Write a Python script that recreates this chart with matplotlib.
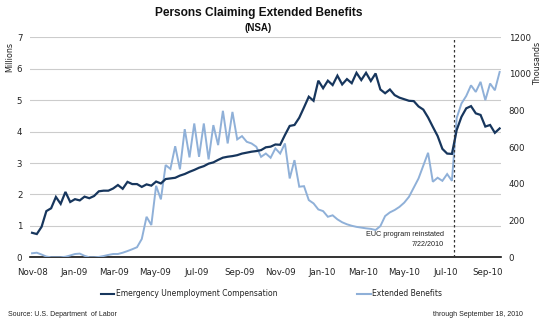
import matplotlib
matplotlib.use("Agg")
import matplotlib.pyplot as plt
import pandas as pd

# ---------------- data ----------------
weeks = pd.date_range("2008-11-01", periods=99, freq="7D")

# Emergency Unemployment Compensation (millions, left axis)
euc = [0.78, 0.74, 0.97, 1.47, 1.56, 1.92, 1.70, 2.08, 1.76, 1.85,
       1.81, 1.93, 1.88, 1.95, 2.10, 2.12, 2.12, 2.19, 2.30, 2.18,
       2.40, 2.33, 2.33, 2.24, 2.32, 2.28, 2.41, 2.35, 2.49, 2.51,
       2.53, 2.60, 2.65, 2.72, 2.78, 2.85, 2.90, 2.98, 3.02, 3.10,
       3.17, 3.20, 3.22, 3.25, 3.30, 3.33, 3.36, 3.38, 3.41, 3.50,
       3.52, 3.59, 3.58, 3.89, 4.18, 4.21, 4.44, 4.77, 5.11, 4.98,
       5.62, 5.38, 5.62, 5.48, 5.78, 5.50, 5.67, 5.54, 5.87, 5.64,
       5.87, 5.61, 5.85, 5.34, 5.22, 5.34, 5.16, 5.08, 5.03, 4.98,
       4.97, 4.80, 4.70, 4.45, 4.15, 3.86, 3.45, 3.30, 3.29, 4.05,
       4.47, 4.74, 4.81, 4.58, 4.53, 4.16, 4.21, 3.96, 4.10]

# Extended Benefits (thousands, right axis)
eb = [22, 25, 15, 4, 0, 0, 0, 3, 10, 18,
      20, 8, 0, 0, 2, 7, 13, 18, 18, 25,
      34, 44, 55, 100, 221, 176, 390, 316, 503, 482,
      606, 480, 699, 545, 730, 548, 730, 534, 721, 612,
      799, 621, 793, 643, 661, 630, 621, 603, 548, 566,
      543, 594, 566, 621, 430, 530, 385, 388, 312, 294,
      261, 252, 221, 229, 207, 191, 180, 172, 166, 162,
      158, 155, 149, 170, 225, 245, 258, 275, 298, 330,
      380, 430, 500, 570, 412, 434, 417, 454, 417, 760,
      839, 880, 938, 902, 957, 857, 948, 911, 1011]

tick_dates = pd.date_range("2008-11-01", "2010-09-01", freq="2MS")
tick_labels = ["Nov-08", "Jan-09", "Mar-09", "May-09", "Jul-09", "Sep-09",
               "Nov-09", "Jan-10", "Mar-10", "May-10", "Jul-10", "Sep-10"]
left_ticks = [0, 1, 2, 3, 4, 5, 6, 7]
right_ticks = [0, 200, 400, 600, 800, 1000, 1200]
reinstated = pd.Timestamp("2010-07-13")

series_names = ["Emergency Unemployment Compensation", "Extended Benefits"]

# ---------------- style ----------------
DARK = "#17365D"
LIGHT = "#8FB0D8"
TXT = "#222222"

W, H = 550, 326
fig = plt.figure(figsize=(W / 100, H / 100), dpi=100)
ax = fig.add_axes([30 / W, 1 - 257.3 / H, 471 / W, 220 / H])
ax2 = ax.twinx()
ax3 = ax.twinx()

ax.set_xlim(weeks[0] - pd.Timedelta(days=3), weeks[-1] + pd.Timedelta(days=2))
ax.set_ylim(0, 7)
ax.set_yticks(left_ticks)
ax.grid(axis="y", color="#cccccc", lw=0.8)
ax.set_axisbelow(True)
ax.set_xticks(tick_dates)
ax.set_xticklabels(tick_labels)
ax.tick_params(axis="both", length=0, labelsize=6.2, colors=TXT)
ax.tick_params(axis="y", pad=5.5)
ax.tick_params(axis="x", pad=8)
for s in ["left", "right", "top"]:
    ax.spines[s].set_visible(False)
ax.spines["bottom"].set_color("#111111")
ax.spines["bottom"].set_linewidth(1.2)

# Extended benefits on right axis
l2, = ax2.plot(weeks, eb, color=LIGHT, lw=1.4, solid_joinstyle="miter")
ax2.set_ylim(0, 1200)
ax2.set_yticks(right_ticks)
ax2.tick_params(axis="y", length=0, labelsize=6.2, colors=TXT, pad=5.5)
for s in ax2.spines.values():
    s.set_visible(False)

# EUC on top
l1, = ax3.plot(weeks, euc, color=DARK, lw=1.6, solid_joinstyle="miter")
ax3.set_ylim(0, 7)
ax3.set_yticks([])
for s in ax3.spines.values():
    s.set_visible(False)
ax3.axvline(reinstated, color="#333333", lw=0.9, ls=(0, (2, 2)))
ax3.annotate("EUC program reinstated\n7/22/2010", xy=(reinstated, 0),
             xytext=(-7, 12.8), textcoords="offset points",
             ha="right", va="center", multialignment="right",
             fontsize=5.2, family="Liberation Sans", color=TXT, linespacing=1.5)

# titles
fig.text(258.6 / W, 1 - 13 / H, "Persons Claiming Extended Benefits",
         ha="center", va="center", fontsize=8.6, fontweight="bold",
         family="Liberation Sans", color="#111111")
fig.text(258 / W, 1 - 28 / H, "(NSA)", ha="center", va="center",
         fontsize=7, fontweight="bold", family="Liberation Sans", color="#111111")

fig.text(9.5 / W, 1 - 57 / H, "Millions", rotation=90, ha="center", va="center",
         fontsize=5.8, color=TXT)
fig.text(537.5 / W, 1 - 63 / H, "Thousands", rotation=90, ha="center", va="center",
         fontsize=5.8, color=TXT)

leg = fig.legend([l1, l2], series_names, loc="center",
                 bbox_to_anchor=(271.5 / W, 1 - 294 / H), ncol=2, frameon=False,
                 fontsize=5.5, handlelength=1.8, handletextpad=0.15,
                 columnspacing=10.5)
for t in leg.get_texts():
    t.set_color(TXT)
for h in leg.legend_handles:
    h.set_linewidth(1.5)

fig.text(7.6 / W, 1 - 314.6 / H, "Source: U.S. Department  of Labor",
         ha="left", va="center", fontsize=5, family="Liberation Sans", color=TXT)
fig.text(523 / W, 1 - 314.6 / H, "through September 18, 2010",
         ha="right", va="center", fontsize=5, family="Liberation Sans", color=TXT)

fig.savefig("out.png", dpi=100)
